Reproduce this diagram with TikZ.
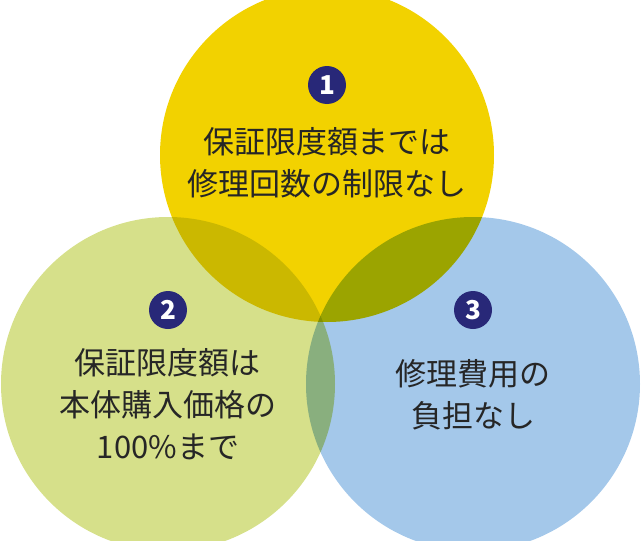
\documentclass[tikz,border=0pt]{standalone}
\usepackage{fontspec}
\setmainfont{Noto Sans CJK JP}
\begin{document}
\begin{tikzpicture}[x=1pt,y=-1pt,
  txt/.style={font=\fontsize{31}{38}\selectfont, text=black!85, align=center},
  badge/.style={circle, fill=navy, text=white, minimum size=38pt, inner sep=0pt, font=\fontsize{26}{26}\selectfont\bfseries}]
\definecolor{yel}{RGB}{242,210,0}
\definecolor{grn}{RGB}{214,224,138}
\definecolor{blu}{RGB}{164,200,234}
\definecolor{navy}{RGB}{40,40,120}
\useasboundingbox (0,0) rectangle (641,541);
\clip (0,0) rectangle (641,541);
\begin{scope}[blend group=multiply]
\fill[yel] (327,155) circle (167);
\fill[grn] (168,384) circle (167);
\fill[blu] (473,384) circle (167);
\end{scope}
\node[badge] (b1) at (327,85) {1};
\node[badge] (b2) at (168,310) {2};
\node[badge] (b3) at (473,310) {3};
\node[txt] (t1) at (327,163) {保証限度額までは\\[4pt]修理回数の制限なし};
\node[txt] (t2) at (168,404) {保証限度額は\\[4pt]本体購入価格の\\[4pt]100\%まで};
\node[txt] (t3) at (473,395) {修理費用の\\[4pt]負担なし};
\end{tikzpicture}
\end{document}
